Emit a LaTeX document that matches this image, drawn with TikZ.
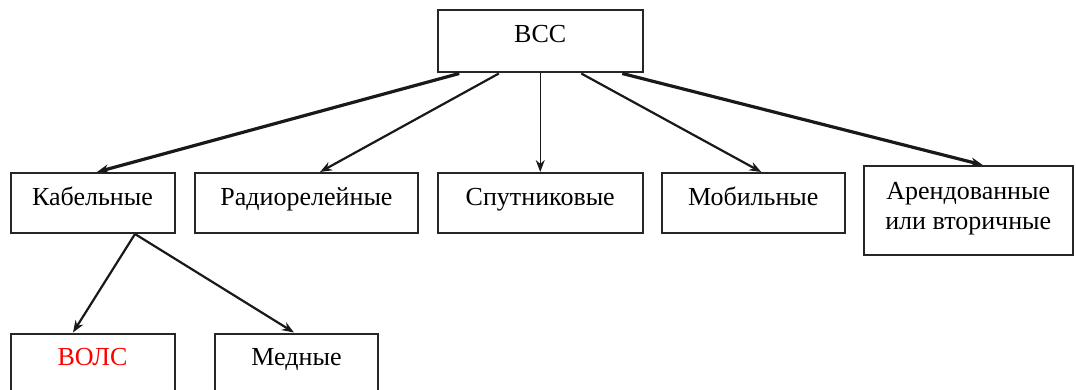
\documentclass[tikz,border=0pt]{standalone}
\usepackage{fontspec}
\setmainfont{Liberation Serif}
\usetikzlibrary{arrows.meta}
\begin{document}
\begin{tikzpicture}[x=0.5pt,y=-0.5pt,
  box/.style={draw=black!85, line width=1pt, inner xsep=0pt, inner ysep=7.5pt,
    text height=8.6pt, text depth=6.4pt, anchor=north west, align=center,
    font=\fontsize{13pt}{15pt}\selectfont},
  link/.style={-{Stealth[length=6pt,width=4.5pt]}, draw=black!90, line width=1.1pt},
  heavy/.style={line width=1.6pt},
  thin/.style={line width=0.6pt},
]
\clip (0,0) rectangle (1076,390);

% root
\node[box, minimum width=102.75pt, text depth=7.4pt] (vss) at (436.5,9.5) {ВСС};

% second level
\node[box, minimum width=82pt]     (kab)  at (9.5,172)   {Кабельные};
\node[box, minimum width=111.5pt]  (rad)  at (194,172)   {Радиорелейные};
\node[box, minimum width=102.75pt] (sput) at (436.5,172) {Спутниковые};
\node[box, minimum width=91.25pt]  (mob)  at (661,172)   {Мобильные};
\node[box, minimum width=104.75pt, inner ysep=8.35pt, text height=23.6pt, text depth=4.2pt]
      (arend) at (862.5,165) {Арендованные\\или вторичные};

% third level
\node[box, minimum width=82pt, text=red] (vols) at (9.5,332.5) {ВОЛС};
\node[box, minimum width=81.5pt]         (med)  at (214,332.5) {Медные};

% connectors
\draw[link, heavy] ([xshift=-40.5pt]vss.south) -- ([xshift=2.25pt]kab.north);
\draw[link]        ([xshift=-20.7pt]vss.south) -- ([xshift=6.75pt]rad.north);
\draw[link, thin]  (vss.south) -- (sput.north);
\draw[link]        ([xshift=20.5pt]vss.south) -- ([xshift=4pt]mob.north);
\draw[link, heavy] ([xshift=41pt]vss.south) -- ([xshift=7.25pt]arend.north);

\draw[link] ([xshift=21.25pt]kab.south) -- ([xshift=-9.75pt]vols.north);
\draw[link] ([xshift=21.25pt]kab.south) -- ([xshift=-1.25pt]med.north);
\end{tikzpicture}
\end{document}
